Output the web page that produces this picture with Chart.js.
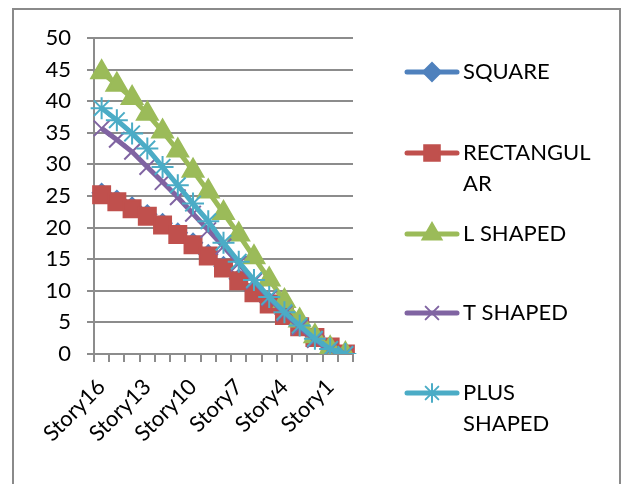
<!DOCTYPE html>
<html>
<head>
<meta charset="utf-8">
<script src="https://cdn.jsdelivr.net/npm/chart.js@4.4.1/dist/chart.umd.min.js"></script>
<style>
  html, body { margin: 0; padding: 0; background: #fff; }
  #wrap { width: 623px; height: 484px; }
</style>
</head>
<body>
<div id="wrap"><canvas id="chart" width="623" height="484"></canvas></div>
<script>
const stories = ['Story16', 'Story15', 'Story14', 'Story13', 'Story12', 'Story11', 'Story10', 'Story9',
    'Story8', 'Story7', 'Story6', 'Story5', 'Story4', 'Story3', 'Story2', 'Story1', 'Base']

const square      = [25.5, 24.4, 23.3, 22.1, 20.7, 19.2, 17.6, 15.8, 13.9, 11.9, 10.0, 8.2, 6.3, 4.5, 2.8, 1.2, 0]
const rectangular = [25.2, 24.1, 23.0, 21.8, 20.4, 18.9, 17.3, 15.5, 13.6, 11.6, 9.7, 7.9, 6.1, 4.3, 2.6, 1.1, 0]
const lShaped     = [44.6, 42.6, 40.5, 38.0, 35.2, 32.2, 29.0, 25.7, 22.3, 18.9, 15.3, 11.8, 8.4, 5.3, 2.8, 0.9, 0]
const tShaped     = [35.7, 33.9, 32.0, 29.6, 27.2, 24.8, 22.2, 19.6, 17.0, 14.3, 11.5, 8.8, 6.4, 4.2, 2.2, 0.7, 0]
const plusShaped  = [38.9, 37.0, 34.9, 32.5, 29.6, 26.7, 23.8, 21.0, 17.6, 14.6, 11.7, 9.0, 6.6, 4.5, 2.4, 0.8, 0]

const yTicks = [0, 5, 10, 15, 20, 25, 30, 35, 40, 45, 50]

const FONT = 'Lato, "Open Sans", sans-serif'
const GRID = '#8c8c8c'

function series(label, data, color, style, radius, order, legendLines) {
    return {
        label: label,
        data: data,
        borderColor: color,
        backgroundColor: color,
        borderWidth: 5,
        pointStyle: style,
        pointRadius: radius,
        pointBorderWidth: 2,
        pointBorderColor: color,
        pointBackgroundColor: color,
        tension: 0,
        order: order,
        legendLines: legendLines
    }
}

// legend drawn by hand so long names can wrap like the original
const legendPlugin = {
    id: 'sideLegend',
    afterDraw(chart) {
        const ctx = chart.ctx
        const rows = [72, 153, 234, 313, 393]
        ctx.save()
        chart.data.datasets.forEach((ds, i) => {
            const y = rows[i]
            ctx.strokeStyle = ds.borderColor
            ctx.lineWidth = 5
            ctx.lineCap = 'round'
            ctx.beginPath()
            ctx.moveTo(407, y)
            ctx.lineTo(457, y)
            ctx.stroke()
            ctx.fillStyle = ds.backgroundColor
            ctx.lineWidth = 2
            Chart.helpers.drawPoint(ctx, {
                pointStyle: ds.pointStyle,
                radius: ds.pointStyle === 'rect' ? 11 : (ds.pointStyle === 'triangle' ? 11 : 9),
                borderWidth: 2,
                rotation: 0
            }, 432, y)
            ctx.fillStyle = '#000'
            ctx.font = '22px ' + FONT
            ctx.textBaseline = 'middle'
            ctx.textAlign = 'left'
            ds.legendLines.forEach((t, k) => ctx.fillText(t, 463, y + k * 31))
        })
        ctx.restore()
    }
}

// outer frame of the chart box
const framePlugin = {
    id: 'frame',
    beforeDraw(chart) {
        const ctx = chart.ctx
        ctx.save()
        ctx.strokeStyle = '#8a8a8a'
        ctx.lineWidth = 2
        ctx.beginPath()
        ctx.moveTo(13, 490)
        ctx.lineTo(13, 9)
        ctx.lineTo(620, 9)
        ctx.lineTo(620, 490)
        ctx.stroke()
        ctx.restore()
    }
}

new Chart(document.getElementById('chart'), {
    type: 'line',
    data: {
        labels: stories,
        datasets: [
            series('SQUARE', square, '#4F81BD', 'rectRot', 9, 5, ['SQUARE']),
            series('RECTANGULAR', rectangular, '#C0504D', 'rect', 12, 4, ['RECTANGUL', 'AR']),
            series('L SHAPED', lShaped, '#9BBB59', 'triangle', 12, 3, ['L SHAPED']),
            series('T SHAPED', tShaped, '#8064A2', 'crossRot', 11, 2, ['T SHAPED']),
            series('PLUS SHAPED', plusShaped, '#4BACC6', 'star', 11, 1, ['PLUS', 'SHAPED'])
        ]
    },
    options: {
        responsive: false,
        animation: false,
        layout: { padding: { left: 0, right: 270, top: 38, bottom: 0 } },
        plugins: {
            legend: { display: false },
            tooltip: { enabled: false }
        },
        scales: {
            x: {
                offset: true,
                grid: { drawOnChartArea: false, offset: true, color: GRID, lineWidth: 2, tickLength: 8 },
                border: { color: GRID, width: 2 },
                ticks: {
                    autoSkip: false,
                    minRotation: 45,
                    maxRotation: 45,
                    color: '#000',
                    font: { family: FONT, size: 22 },
                    padding: 12,
                    callback: function (val, idx) { return idx % 3 === 0 ? stories[idx] : '' }
                },
                afterFit: function (scale) { scale.height = 130 }
            },
            y: {
                min: 0,
                max: 50,
                afterBuildTicks: function (scale) { scale.ticks = yTicks.map(v => ({ value: v })) },
                grid: { color: GRID, lineWidth: 2, tickLength: 7 },
                border: { color: GRID, width: 2 },
                ticks: {
                    color: '#000',
                    font: { family: FONT, size: 22 },
                    padding: 16
                },
                afterFit: function (scale) { scale.width = 94 }
            }
        }
    },
    plugins: [framePlugin, legendPlugin]
});
</script>
</body>
</html>
